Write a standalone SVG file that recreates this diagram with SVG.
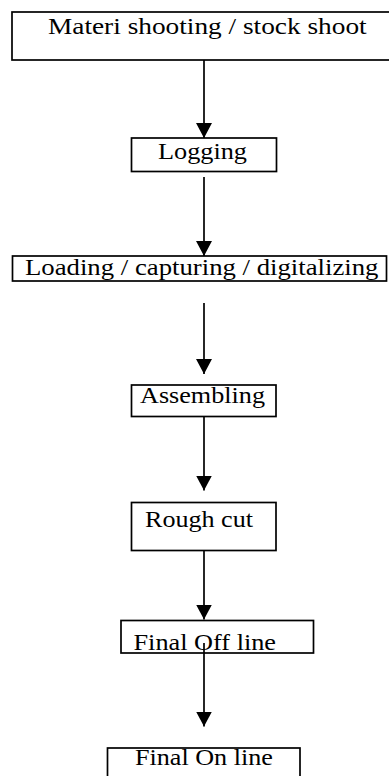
<svg xmlns="http://www.w3.org/2000/svg" width="389" height="776" viewBox="0 0 389 776">
  <style>
    .box { fill: #ffffff; stroke: #000000; stroke-width: 1.7; }
    .lbl { font-family: "Liberation Serif", "Times New Roman", serif; font-size: 22.5px; fill: #000000; }
    .flow { stroke: #000000; stroke-width: 1.7; fill: none; }
  </style>
  <defs>
    <!-- solid triangular head, drawn along +x so orient="auto" points it down the line -->
    <marker id="arrowhead" markerUnits="userSpaceOnUse" markerWidth="15" markerHeight="16" viewBox="0 0 15 16" refX="15" refY="8" orient="auto">
      <path d="M0,0 L15,8 L0,16 Z" fill="#000000"/>
    </marker>
  </defs>
  <rect x="0" y="0" width="389" height="776" fill="#ffffff"/>

  <!-- labels are set in a horizontally widened serif -->
  <g id="n1">
    <rect class="box" x="12" y="12" width="390" height="48"/>
    <text class="lbl" transform="translate(48,33.5) scale(1.215,1)">Materi shooting / stock shoot</text>
  </g>

  <g id="n2">
    <rect class="box" x="131.5" y="138" width="145" height="33.5"/>
    <text class="lbl" transform="translate(158,159) scale(1.167,1)">Logging</text>
  </g>

  <g id="n3">
    <rect class="box" x="12.5" y="256" width="374" height="25"/>
    <text class="lbl" transform="translate(25,275) scale(1.189,1)">Loading / capturing / digitalizing</text>
  </g>

  <g id="n4">
    <rect class="box" x="131.5" y="385" width="144.5" height="31.5"/>
    <text class="lbl" transform="translate(140,403) scale(1.163,1)">Assembling</text>
  </g>

  <g id="n5">
    <rect class="box" x="131.5" y="502.5" width="144.5" height="48"/>
    <text class="lbl" transform="translate(145,526.5) scale(1.160,1)">Rough cut</text>
  </g>

  <g id="n6">
    <rect class="box" x="121" y="620.5" width="192.5" height="32.5"/>
    <text class="lbl" transform="translate(133.5,650) scale(1.168,1)">Final Off line</text>
  </g>

  <g id="n7">
    <rect class="box" x="107.5" y="748" width="192.5" height="40"/>
    <text class="lbl" transform="translate(135,765) scale(1.162,1)">Final On line</text>
  </g>

  <g id="connectors">
    <line class="flow" x1="204" y1="60" x2="204" y2="138" marker-end="url(#arrowhead)"/>
    <line class="flow" x1="204" y1="177" x2="204" y2="256" marker-end="url(#arrowhead)"/>
    <line class="flow" x1="204" y1="303" x2="204" y2="374" marker-end="url(#arrowhead)"/>
    <line class="flow" x1="204" y1="416.5" x2="204" y2="490.5" marker-end="url(#arrowhead)"/>
    <line class="flow" x1="204" y1="550.5" x2="204" y2="619.5" marker-end="url(#arrowhead)"/>
    <line class="flow" x1="204" y1="643" x2="204" y2="726.5" marker-end="url(#arrowhead)"/>
  </g>
</svg>
